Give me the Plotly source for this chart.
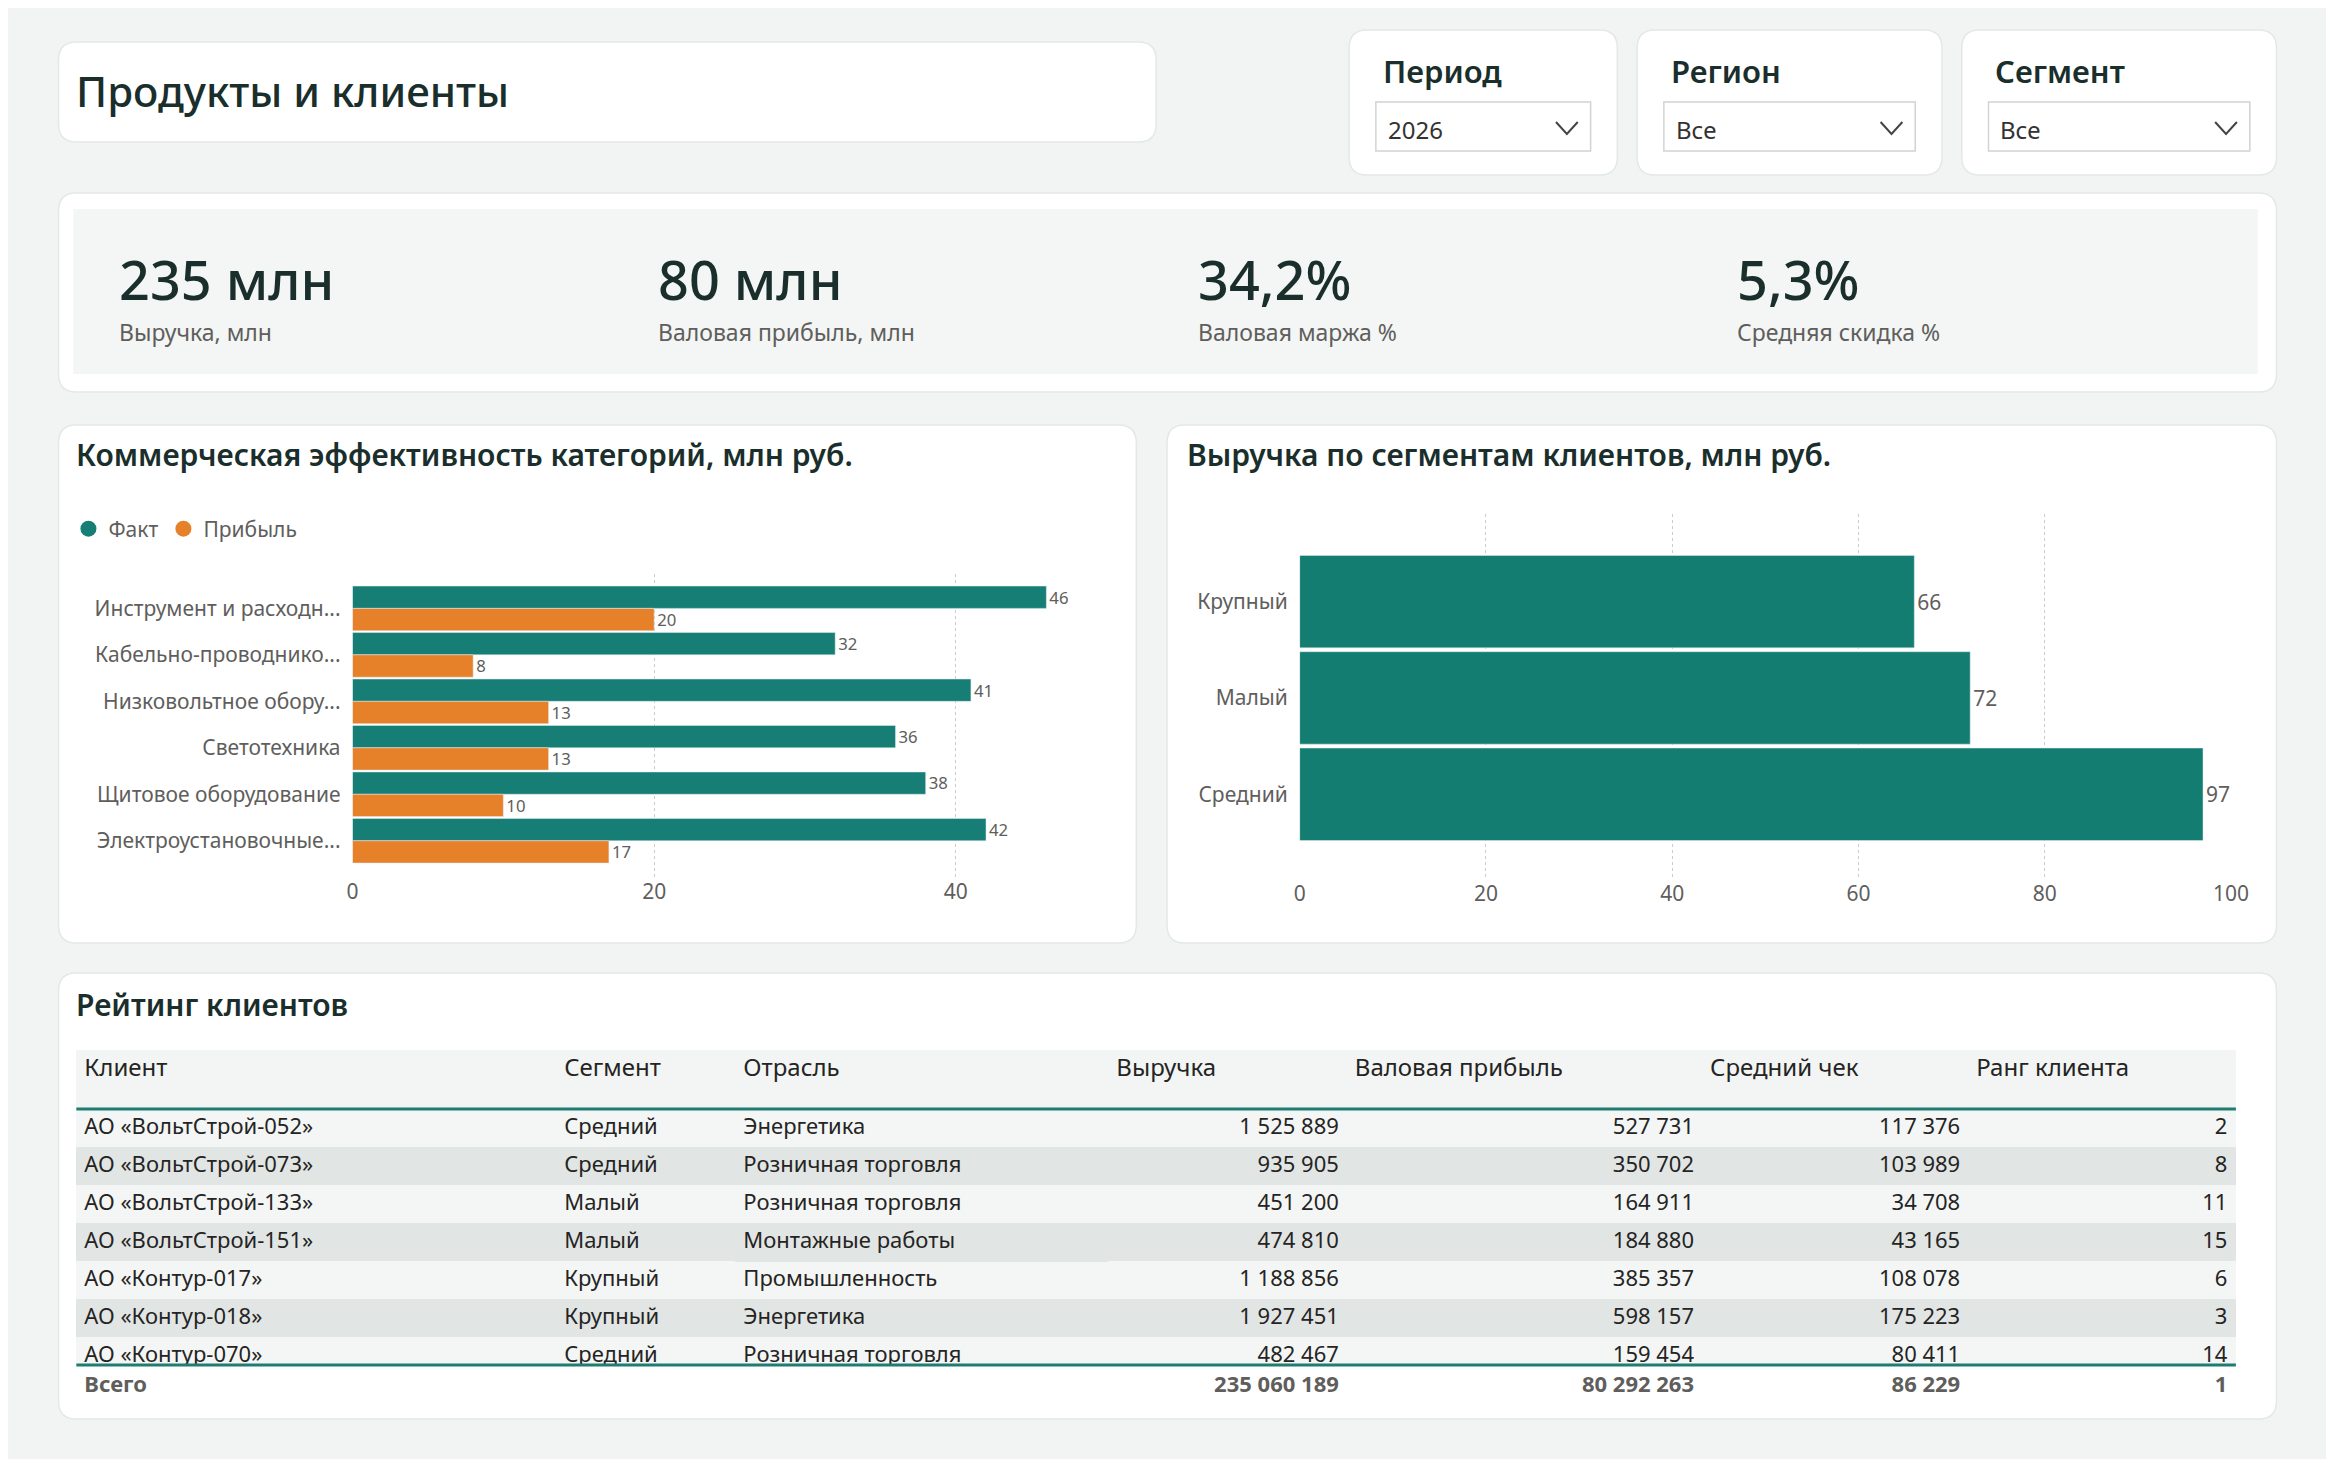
import plotly.graph_objects as go

W, H = 2334, 1459
FONT = "Noto Sans"
TEAL = "#167e74"
ORANGE = "#e6812a"
DARK = "#1a2e2c"
GREY = "#605e5c"

# ---- data ----
categories = ["Инструмент и расходн...", "Кабельно-проводнико...", "Низковольтное обору...",
              "Светотехника", "Щитовое оборудование", "Электроустановочные..."]
fact = [46, 32, 41, 36, 38, 42]
profit = [20, 8, 13, 13, 10, 17]

segments = ["Крупный", "Малый", "Средний"]
seg_revenue = [66, 72, 97]

kpi_values = ["235 млн", "80 млн", "34,2%", "5,3%"]
kpi_labels = ["Выручка, млн", "Валовая прибыль, млн", "Валовая маржа %", "Средняя скидка %"]

filters = ["Период", "Регион", "Сегмент"]
filter_values = ["2026", "Все", "Все"]

tbl_headers = ["Клиент", "Сегмент", "Отрасль", "Выручка", "Валовая прибыль", "Средний чек", "Ранг клиента"]
t_client = ["АО «ВольтСтрой-052»", "АО «ВольтСтрой-073»", "АО «ВольтСтрой-133»", "АО «ВольтСтрой-151»",
            "АО «Контур-017»", "АО «Контур-018»", "АО «Контур-070»"]
t_segment = ["Средний", "Средний", "Малый", "Малый", "Крупный", "Крупный", "Средний"]
t_industry = ["Энергетика", "Розничная торговля", "Розничная торговля", "Монтажные работы",
              "Промышленность", "Энергетика", "Розничная торговля"]
t_revenue = [1525889, 935905, 451200, 474810, 1188856, 1927451, 482467]
t_profit = [527731, 350702, 164911, 184880, 385357, 598157, 159454]
t_check = [117376, 103989, 34708, 43165, 108078, 175223, 80411]
t_rank = [2, 8, 11, 15, 6, 3, 14]
totals = ["Всего", "", "", "235 060 189", "80 292 263", "86 229", "1"]


def fmt(v):
    return f"{v:,}".replace(",", " ")


def X(p):
    return p / W


def Y(p):
    return 1 - p / H


def rrect(x0, y0, x1, y1, r, fill, line="#e3e8e6", lw=1.5):
    rx, ry = r / W, r / H
    a0, a1, b0, b1 = X(x0), X(x1), Y(y1), Y(y0)
    path = (f"M{a0+rx},{b1} L{a1-rx},{b1} Q{a1},{b1} {a1},{b1-ry} L{a1},{b0+ry} "
            f"Q{a1},{b0} {a1-rx},{b0} L{a0+rx},{b0} Q{a0},{b0} {a0},{b0+ry} "
            f"L{a0},{b1-ry} Q{a0},{b1} {a0+rx},{b1} Z")
    return dict(type="path", xref="paper", yref="paper", path=path, fillcolor=fill,
                line=dict(color=line, width=lw), layer="below")


shapes, ann = [], []


def text(x, y, t, size, color=DARK, weight=400, xanchor="left"):
    ann.append(dict(x=X(x), y=Y(y), xref="paper", yref="paper", text=t, showarrow=False,
                    xanchor=xanchor, yanchor="middle",
                    font=dict(family=FONT, size=size, color=color, weight=weight)))


# title card
shapes.append(rrect(45, 34, 1154, 134, 18, "white"))
text(61, 82, "Продукты и клиенты", 42, weight=500)

# filter cards
for i, (fx0, fx1) in enumerate([(1349, 1620), (1640, 1948), (1968, 2286)]):
    shapes.append(rrect(fx0, 22, fx1, 167, 18, "white"))
    text(fx0 + 32, 63, filters[i], 31, weight=600)
    bx0, bx1 = fx0 + 27, fx1 - 27
    shapes.append(dict(type="rect", xref="paper", yref="paper", x0=X(bx0), x1=X(bx1),
                       y0=Y(143), y1=Y(94), line=dict(color="#d0d4d3", width=1.5), fillcolor="white"))
    text(bx0 + 10, 121, filter_values[i], 24, color="#333333")
    cx = bx1 - 24
    shapes.append(dict(type="path", xref="paper", yref="paper",
                       path=f"M{X(cx-11)},{Y(114)} L{X(cx)},{Y(126)} L{X(cx+11)},{Y(114)}",
                       line=dict(color="#444444", width=2)))

# KPI card
shapes.append(rrect(45, 185, 2286, 384, 18, "white"))
shapes.append(dict(type="rect", xref="paper", yref="paper", x0=X(60), x1=X(2267), y0=Y(366), y1=Y(201),
                   fillcolor="#f3f6f5", line=dict(width=0), layer="below"))
for i, kx in enumerate([104, 649, 1194, 1739]):
    text(kx, 271, kpi_values[i], 54, weight=500)
    text(kx, 324, kpi_labels[i], 23, color=GREY)

# chart cards
shapes.append(rrect(45, 417, 1134, 935, 18, "white"))
shapes.append(rrect(1165, 417, 2286, 935, 18, "white"))
text(61, 447, "Коммерческая эффективность категорий, млн руб.", 30, weight=600)
text(1183, 447, "Выручка по сегментам клиентов, млн руб.", 30, weight=600)

# table card
shapes.append(rrect(45, 965, 2286, 1411, 18, "white"))
text(61, 996, "Рейтинг клиентов", 30, weight=600)
shapes.append(dict(type="line", xref="paper", yref="paper", x0=X(63), x1=X(2245), y0=Y(1101), y1=Y(1101),
                   line=dict(color="#1f7c72", width=3)))
shapes.append(dict(type="line", xref="paper", yref="paper", x0=X(63), x1=X(2245), y0=Y(1357), y1=Y(1357),
                   line=dict(color="#1f7c72", width=3)))

fig = go.Figure()

# left chart
fig.add_trace(go.Bar(y=categories, x=fact, orientation="h", name="Факт", marker_color=TEAL,
                     text=fact, textposition="outside", textfont=dict(color=GREY, size=21, family=FONT),
                     cliponaxis=False, showlegend=False, xaxis="x", yaxis="y"))
fig.add_trace(go.Bar(y=categories, x=profit, orientation="h", name="Прибыль", marker_color=ORANGE,
                     text=profit, textposition="outside", textfont=dict(color=GREY, size=21, family=FONT),
                     cliponaxis=False, showlegend=False, xaxis="x", yaxis="y"))
for nm, c in [("Факт", TEAL), ("Прибыль", ORANGE)]:
    fig.add_trace(go.Scatter(x=[None], y=[None], mode="markers", name=nm,
                             marker=dict(symbol="circle", size=16, color=c), xaxis="x", yaxis="y"))

# right chart
fig.add_trace(go.Bar(y=segments, x=seg_revenue, orientation="h", marker_color="#137d72",
                     text=seg_revenue, textposition="outside", textfont=dict(color=GREY, size=21, family=FONT),
                     cliponaxis=False, showlegend=False, xaxis="x2", yaxis="y2"))

# table
n = len(t_client)
row_fill = ["#f3f6f5" if i % 2 == 0 else "#e1e6e5" for i in range(n)]
colw = [485, 181, 377, 241, 359, 269, 270]
fig.add_trace(go.Table(
    domain=dict(x=[X(63), X(2245)], y=[Y(1357), Y(1042)]),
    columnwidth=colw,
    header=dict(values=tbl_headers, fill_color="#f2f5f4", line_color="#f2f5f4", height=59,
                align="left", font=dict(family=FONT, size=24, color="#252423")),
    cells=dict(values=[t_client, t_segment, t_industry, [fmt(v) for v in t_revenue],
                       [fmt(v) for v in t_profit], [fmt(v) for v in t_check], t_rank],
               fill_color=[row_fill] * 7, line_color=[row_fill] * 7, height=38,
               align=["left", "left", "left", "right", "right", "right", "right"],
               font=dict(family=FONT, size=22, color="#252423"))))
fig.add_trace(go.Table(
    domain=dict(x=[X(63), X(2245)], y=[Y(1400), Y(1359)]),
    columnwidth=colw,
    header=dict(values=totals, fill_color="white", line_color="white", height=38,
                align=["left", "left", "left", "right", "right", "right", "right"],
                font=dict(family=FONT, size=22, color=GREY, weight=700)),
    cells=dict(values=[[]] * 7)))

axfont = dict(family=FONT, size=21, color=GREY)
fig.update_layout(
    width=W, height=H, margin=dict(l=0, r=0, t=0, b=0),
    paper_bgcolor="#f1f4f3", plot_bgcolor="rgba(0,0,0,0)",
    barmode="group", bargap=0.04, bargroupgap=0,
    shapes=shapes, annotations=ann,
    showlegend=True,
    legend=dict(x=X(55), y=Y(521), xanchor="left", yanchor="middle", orientation="h",
                font=dict(family=FONT, size=21, color=GREY), bgcolor="rgba(0,0,0,0)",
                itemwidth=30, tracegroupgap=0),
    xaxis=dict(domain=[X(342), X(1101)], range=[0, 49.8], tickvals=[0, 20, 40], showgrid=True,
               gridcolor="#c8cccb", griddash="dot", zeroline=False, tickfont=axfont, anchor="y"),
    yaxis=dict(domain=[Y(869), Y(566)], range=[5.78, -0.74], type="category",
               categoryarray=categories, tickfont=axfont, ticksuffix="  ", showgrid=False, anchor="x"),
    xaxis2=dict(domain=[X(1299), X(2240)], range=[0, 100], tickvals=[0, 20, 40, 60, 80, 100],
                showgrid=True, gridcolor="#c8cccb", griddash="dot", zeroline=False, tickfont=axfont,
                anchor="y2"),
    yaxis2=dict(domain=[Y(871), Y(506)], range=[2.88, -0.91], type="category",
                categoryarray=segments, tickfont=axfont, ticksuffix="  ", showgrid=False, anchor="x2"),
)

fig.write_html("out.html")
